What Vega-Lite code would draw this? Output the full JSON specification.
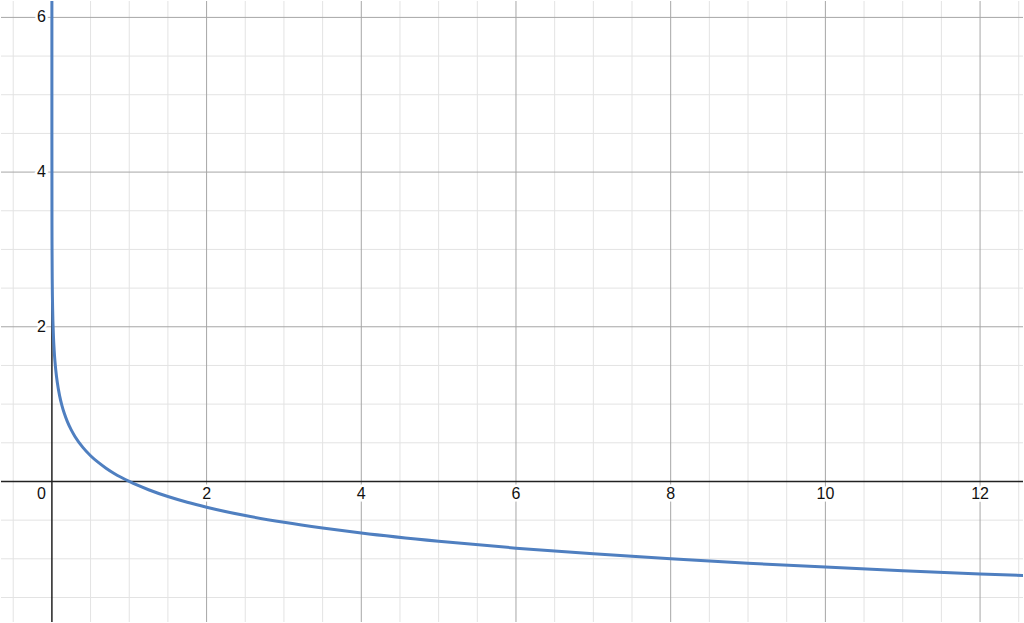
{
  "$schema": "https://vega.github.io/schema/vega-lite/v6.json",
  "width": 1024,
  "height": 623,
  "autosize": {"type": "fit", "contains": "padding"},
  "padding": 0,
  "background": "white",
  "config": {"view": {"stroke": null}},
  "datasets": {
    "minorX": [{"v": -0.5}, {"v": 0.5}, {"v": 1}, {"v": 1.5}, {"v": 2.5}, {"v": 3}, {"v": 3.5}, {"v": 4.5}, {"v": 5}, {"v": 5.5}, {"v": 6.5}, {"v": 7}, {"v": 7.5}, {"v": 8.5}, {"v": 9}, {"v": 9.5}, {"v": 10.5}, {"v": 11}, {"v": 11.5}, {"v": 12.5}],
    "minorY": [{"v": -1.5}, {"v": -1}, {"v": -0.5}, {"v": 0.5}, {"v": 1}, {"v": 1.5}, {"v": 2.5}, {"v": 3}, {"v": 3.5}, {"v": 4.5}, {"v": 5}, {"v": 5.5}],
    "majorX": [{"v": 2}, {"v": 4}, {"v": 6}, {"v": 8}, {"v": 10}, {"v": 12}],
    "majorY": [{"v": 2}, {"v": 4}, {"v": 6}],
    "xLabels": [{"v": 2, "t": "2"}, {"v": 4, "t": "4"}, {"v": 6, "t": "6"}, {"v": 8, "t": "8"}, {"v": 10, "t": "10"}, {"v": 12, "t": "12"}],
    "yLabels": [{"v": 2, "t": "2"}, {"v": 4, "t": "4"}, {"v": 6, "t": "6"}],
    "origin": [{"v": 0, "t": "0"}],
    "curve": [
      {"x": 0.000001, "y": 6.644}, {"x": 0.00001, "y": 5.537}, {"x": 0.0001, "y": 4.429},
      {"x": 0.001, "y": 3.322}, {"x": 0.002, "y": 2.989}, {"x": 0.005, "y": 2.548},
      {"x": 0.01, "y": 2.215}, {"x": 0.02, "y": 1.881}, {"x": 0.03, "y": 1.686},
      {"x": 0.04, "y": 1.548}, {"x": 0.05, "y": 1.441}, {"x": 0.07, "y": 1.279},
      {"x": 0.1, "y": 1.107}, {"x": 0.13, "y": 0.981}, {"x": 0.16, "y": 0.881},
      {"x": 0.2, "y": 0.774}, {"x": 0.25, "y": 0.667}, {"x": 0.3, "y": 0.579},
      {"x": 0.4, "y": 0.441}, {"x": 0.5, "y": 0.333}, {"x": 0.6, "y": 0.246},
      {"x": 0.7, "y": 0.172}, {"x": 0.8, "y": 0.107}, {"x": 0.9, "y": 0.051},
      {"x": 1, "y": 0}, {"x": 1.25, "y": -0.107}, {"x": 1.5, "y": -0.195},
      {"x": 1.75, "y": -0.269}, {"x": 2, "y": -0.333}, {"x": 2.5, "y": -0.441},
      {"x": 3, "y": -0.528}, {"x": 3.5, "y": -0.602}, {"x": 4, "y": -0.667},
      {"x": 5, "y": -0.774}, {"x": 6, "y": -0.862}, {"x": 7, "y": -0.936},
      {"x": 8, "y": -1.0}, {"x": 9, "y": -1.057}, {"x": 10, "y": -1.107},
      {"x": 11, "y": -1.153}, {"x": 12, "y": -1.195}, {"x": 13, "y": -1.233}
    ]
  },
  "layer": [
    {
      "data": {"name": "minorX"},
      "mark": {"type": "rule", "stroke": "#e3e3e3", "strokeWidth": 1},
      "encoding": {"x": {"field": "v", "type": "quantitative", "scale": {"domain": [-0.658, 12.555], "nice": false, "zero": false}, "axis": null}}
    },
    {
      "data": {"name": "minorY"},
      "mark": {"type": "rule", "stroke": "#e3e3e3", "strokeWidth": 1},
      "encoding": {"y": {"field": "v", "type": "quantitative", "scale": {"domain": [-1.817, 6.212], "nice": false, "zero": false}, "axis": null}}
    },
    {
      "data": {"name": "majorX"},
      "mark": {"type": "rule", "stroke": "#a6a6a6", "strokeWidth": 1},
      "encoding": {"x": {"field": "v", "type": "quantitative"}}
    },
    {
      "data": {"name": "majorY"},
      "mark": {"type": "rule", "stroke": "#a6a6a6", "strokeWidth": 1},
      "encoding": {"y": {"field": "v", "type": "quantitative"}}
    },
    {
      "data": {"values": [{"v": 0}]},
      "mark": {"type": "rule", "stroke": "#222222", "strokeWidth": 1.5},
      "encoding": {"x": {"field": "v", "type": "quantitative"}}
    },
    {
      "data": {"values": [{"v": 0}]},
      "mark": {"type": "rule", "stroke": "#222222", "strokeWidth": 1.5},
      "encoding": {"y": {"field": "v", "type": "quantitative"}}
    },
    {
      "data": {"name": "xLabels"},
      "mark": {"type": "text", "font": "Liberation Sans", "fontSize": 16, "fill": "white", "stroke": "white", "strokeWidth": 5, "align": "center", "baseline": "middle", "dy": 13},
      "encoding": {
        "x": {"field": "v", "type": "quantitative"},
        "y": {"datum": 0, "type": "quantitative"},
        "text": {"field": "t"}
      }
    },
    {
      "data": {"name": "xLabels"},
      "mark": {"type": "text", "font": "Liberation Sans", "fontSize": 16, "color": "#111111", "align": "center", "baseline": "middle", "dy": 13},
      "encoding": {
        "x": {"field": "v", "type": "quantitative"},
        "y": {"datum": 0, "type": "quantitative"},
        "text": {"field": "t"}
      }
    },
    {
      "data": {"name": "yLabels"},
      "mark": {"type": "text", "font": "Liberation Sans", "fontSize": 16, "fill": "white", "stroke": "white", "strokeWidth": 5, "align": "right", "baseline": "middle", "dx": -6},
      "encoding": {
        "x": {"datum": 0, "type": "quantitative"},
        "y": {"field": "v", "type": "quantitative"},
        "text": {"field": "t"}
      }
    },
    {
      "data": {"name": "yLabels"},
      "mark": {"type": "text", "font": "Liberation Sans", "fontSize": 16, "color": "#111111", "align": "right", "baseline": "middle", "dx": -6},
      "encoding": {
        "x": {"datum": 0, "type": "quantitative"},
        "y": {"field": "v", "type": "quantitative"},
        "text": {"field": "t"}
      }
    },
    {
      "data": {"name": "origin"},
      "mark": {"type": "text", "font": "Liberation Sans", "fontSize": 16, "fill": "white", "stroke": "white", "strokeWidth": 5, "align": "right", "baseline": "middle", "dx": -6, "dy": 13},
      "encoding": {
        "x": {"field": "v", "type": "quantitative"},
        "y": {"field": "v", "type": "quantitative"},
        "text": {"field": "t"}
      }
    },
    {
      "data": {"name": "origin"},
      "mark": {"type": "text", "font": "Liberation Sans", "fontSize": 16, "color": "#111111", "align": "right", "baseline": "middle", "dx": -6, "dy": 13},
      "encoding": {
        "x": {"field": "v", "type": "quantitative"},
        "y": {"field": "v", "type": "quantitative"},
        "text": {"field": "t"}
      }
    },
    {
      "data": {"name": "curve"},
      "mark": {"type": "line", "stroke": "#4f7fc0", "strokeWidth": 3, "interpolate": "monotone", "clip": true},
      "encoding": {
        "x": {"field": "x", "type": "quantitative"},
        "y": {"field": "y", "type": "quantitative"}
      }
    }
  ]
}
